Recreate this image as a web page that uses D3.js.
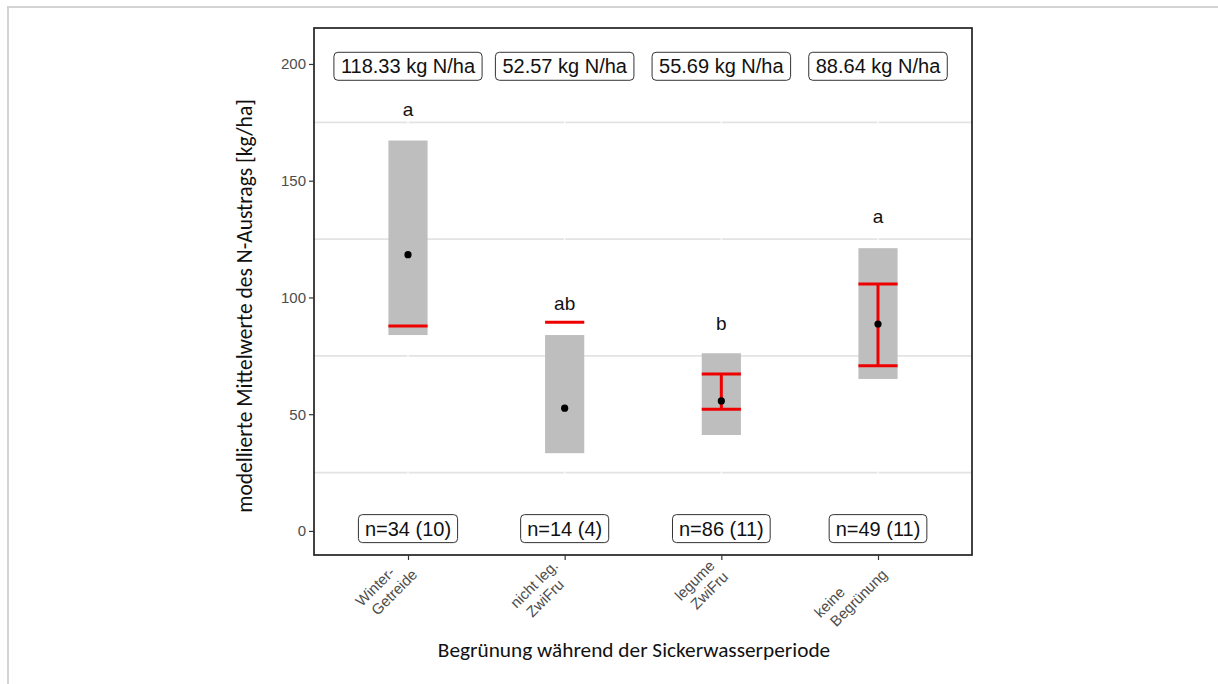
<!DOCTYPE html>
<html>
<head>
<meta charset="utf-8">
<script src="https://cdn.jsdelivr.net/npm/d3@7"></script>
<style>
  html, body { margin: 0; padding: 0; background: #fff; }
  svg { display: block; }
</style>
</head>
<body>
<svg id="chart" width="1218" height="684"></svg>
<script>
// values
const categories = [['Winter-', 'Getreide'], ['nicht leg.', 'ZwiFru'], ['legume', 'ZwiFru'], ['keine', 'Begrünung']]
const means = [118.33, 52.57, 55.69, 88.64]
const rangeLow = [83.9, 33.3, 41.1, 65.1]
const rangeHigh = [167.2, 83.9, 76.1, 121.1]
const errLow = [87.8, 89.4, 52.1, 70.8]
const errHigh = [null, null, 67.2, 105.8]
const letters = ['a', 'ab', 'b', 'a']
const letterY = [180.4, 97.4, 88.8, 134.8]
const nLabels = ['n=34 (10)', 'n=14 (4)', 'n=86 (11)', 'n=49 (11)']
const yTicks = [0, 50, 100, 150, 200]
const yMinor = [25, 75, 125, 175]
const meanLabelY = 199
const nLabelY = 1

const FONT = "'Liberation Sans', Arial, sans-serif"
const FONT_TITLE = "Carlito, Lato, 'Open Sans', sans-serif"

const panel = {left: 314, right: 972, top: 28, bottom: 555}
const svg = d3.select('#chart')

// light frame around the whole picture
svg.append('rect')
  .attr('x', 8).attr('y', 7)
  .attr('width', 1230).attr('height', 700)
  .attr('fill', 'none')
  .attr('stroke', '#d3d3d3')
  .attr('stroke-width', 2)

const keys = categories.map((c) => c.join(' '))

const x = d3.scalePoint()
  .domain(keys)
  .range([panel.left, panel.right])
  .padding(0.6)

const y = d3.scaleLinear()
  .domain([-10.3, 215.4])
  .range([panel.bottom, panel.top])

const barW = x.step() * 0.25

const data = keys.map((k, i) => ({
  key: k,
  mean: means[i],
  lo: rangeLow[i],
  hi: rangeHigh[i],
  eLo: errLow[i],
  eHi: errHigh[i],
  letter: letters[i],
  letterY: letterY[i],
  n: nLabels[i],
}))

// grid
const grid = svg.append('g').attr('class', 'grid')
grid.selectAll('line.minor')
  .data(yMinor)
  .join('line')
  .attr('class', 'minor')
  .attr('x1', panel.left).attr('x2', panel.right)
  .attr('y1', (d) => y(d)).attr('y2', (d) => y(d))
  .attr('stroke', '#e3e3e3')
  .attr('stroke-width', 1.6)
grid.selectAll('line.vx')
  .data(keys)
  .join('line')
  .attr('class', 'vx')
  .attr('x1', (d) => x(d)).attr('x2', (d) => x(d))
  .attr('y1', panel.top).attr('y2', panel.bottom)
  .attr('stroke', '#fff')
  .attr('stroke-width', 1.2)

// grey ranges
svg.append('g')
  .selectAll('rect')
  .data(data)
  .join('rect')
  .attr('x', (d) => x(d.key) - barW / 2)
  .attr('width', barW)
  .attr('y', (d) => y(d.hi))
  .attr('height', (d) => y(d.lo) - y(d.hi))
  .attr('fill', '#bebebe')

// red error bars
const err = svg.append('g').attr('stroke', '#ee0000').attr('stroke-width', 3)
err.selectAll('line.cap-lo')
  .data(data.filter((d) => d.eLo != null))
  .join('line')
  .attr('x1', (d) => x(d.key) - barW / 2)
  .attr('x2', (d) => x(d.key) + barW / 2)
  .attr('y1', (d) => y(d.eLo)).attr('y2', (d) => y(d.eLo))
err.selectAll('line.cap-hi')
  .data(data.filter((d) => d.eHi != null))
  .join('line')
  .attr('x1', (d) => x(d.key) - barW / 2)
  .attr('x2', (d) => x(d.key) + barW / 2)
  .attr('y1', (d) => y(d.eHi)).attr('y2', (d) => y(d.eHi))
err.selectAll('line.stem')
  .data(data.filter((d) => d.eLo != null && d.eHi != null))
  .join('line')
  .attr('x1', (d) => x(d.key)).attr('x2', (d) => x(d.key))
  .attr('y1', (d) => y(d.eLo)).attr('y2', (d) => y(d.eHi))

// mean points
svg.append('g')
  .selectAll('circle')
  .data(data)
  .join('circle')
  .attr('cx', (d) => x(d.key))
  .attr('cy', (d) => y(d.mean))
  .attr('r', 3.6)
  .attr('fill', '#000')

// significance letters
svg.append('g')
  .selectAll('text')
  .data(data)
  .join('text')
  .attr('x', (d) => x(d.key))
  .attr('y', (d) => y(d.letterY))
  .attr('dy', '0.35em')
  .attr('text-anchor', 'middle')
  .attr('font-family', FONT)
  .attr('font-size', 19)
  .attr('fill', '#111')
  .text((d) => d.letter)

// boxed labels
function boxLabels(cls, values, yVal, pad) {
  const g = svg.append('g').attr('class', cls)
  const item = g.selectAll('g')
    .data(data)
    .join('g')
    .attr('transform', (d) => `translate(${x(d.key)},${y(yVal)})`)
  const rects = item.append('rect')
  const texts = item.append('text')
    .attr('text-anchor', 'middle')
    .attr('dy', '0.36em')
    .attr('font-family', FONT)
    .attr('font-size', 20)
    .attr('fill', '#111')
    .text((d, i) => values[i])
  texts.each(function (d, i) {
    const w = this.getComputedTextLength() + pad * 2
    d3.select(rects.nodes()[i])
      .attr('x', -w / 2).attr('y', -14)
      .attr('width', w).attr('height', 28)
      .attr('rx', 4)
      .attr('fill', '#fff')
      .attr('stroke', '#333')
      .attr('stroke-width', 1)
  })
}
boxLabels('mean-labels', means.map((m) => `${m.toFixed(2)} kg N/ha`), meanLabelY, 7)
boxLabels('n-labels', nLabels, nLabelY, 6.5)

// panel border
svg.append('rect')
  .attr('x', panel.left).attr('y', panel.top)
  .attr('width', panel.right - panel.left)
  .attr('height', panel.bottom - panel.top)
  .attr('fill', 'none')
  .attr('stroke', '#222')
  .attr('stroke-width', 1.7)

// y axis
const yAxis = svg.append('g')
  .attr('transform', `translate(${panel.left},0)`)
  .call(d3.axisLeft(y).tickValues(yTicks).tickSize(5).tickPadding(3))
yAxis.select('.domain').remove()
yAxis.selectAll('.tick line').attr('stroke', '#333').attr('stroke-width', 1.2)
yAxis.selectAll('.tick text')
  .attr('font-family', FONT)
  .attr('font-size', 15)
  .attr('fill', '#4d4d4d')

// x axis, labels rotated 45 degrees
const xAxis = svg.append('g')
  .attr('transform', `translate(0,${panel.bottom})`)
  .call(d3.axisBottom(x).tickSize(5).tickFormat(''))
xAxis.select('.domain').remove()
xAxis.selectAll('.tick line').attr('stroke', '#333').attr('stroke-width', 1.2)

const xLab = svg.append('g')
  .selectAll('g')
  .data(categories)
  .join('g')
  .attr('transform', (d, i) => `translate(${x(keys[i])},${panel.bottom + 6}) rotate(-45)`)
  .attr('font-family', FONT)
  .attr('font-size', 15)
  .attr('fill', '#4d4d4d')
xLab.each(function (lines) {
  const g = d3.select(this)
  const t = lines.map((s, j) => g.append('text').attr('y', j * 17.5).text(s))
  const maxLen = d3.max(t, (n) => n.node().getComputedTextLength())
  const start = -8 - maxLen
  t.forEach((n, j) => n.attr('x', start + j * 5))
})

// axis titles
svg.append('text')
  .attr('transform', 'translate(252,306) rotate(-90)')
  .attr('text-anchor', 'middle')
  .attr('font-family', FONT_TITLE)
  .attr('font-size', 21.5)
  .attr('fill', '#111')
  .text('modellierte Mittelwerte des N-Austrags  [kg/ha]')

svg.append('text')
  .attr('x', 634)
  .attr('y', 657)
  .attr('text-anchor', 'middle')
  .attr('font-family', FONT_TITLE)
  .attr('font-size', 21.3)
  .attr('fill', '#111')
  .text('Begrünung während der Sickerwasserperiode')
</script>
</body>
</html>
